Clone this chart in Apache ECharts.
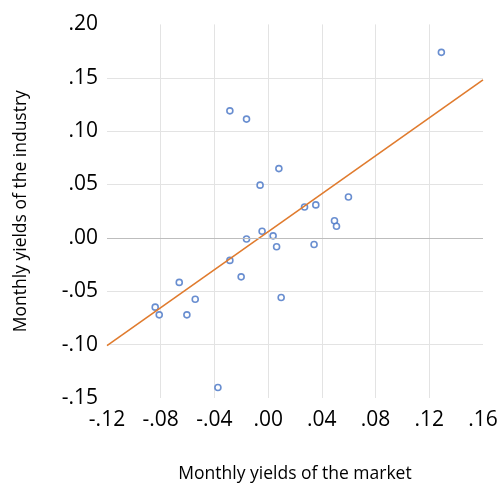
<!DOCTYPE html>
<html>
<head>
<meta charset="utf-8">
<script src="https://cdn.jsdelivr.net/npm/echarts@6/dist/echarts.min.js"></script>
<style>
html,body{margin:0;padding:0;background:#fff;}
#chart{width:501px;height:488px;}
</style>
</head>
<body>
<div id="chart"></div>
<script>
// Market monthly yields (x) and industry monthly yields (y)
const marketYields = [0.129, -0.0285, -0.0161, 0.0080, -0.0060, 0.0598, 0.0271, 0.0355, 0.0494, 0.0509,
  -0.0045, 0.0037, -0.0161, 0.0063, 0.0342, -0.0285, -0.0201, -0.0662, -0.0543, -0.0841,
  -0.0811, -0.0605, -0.0374, 0.0097];
const industryYields = [0.1738, 0.119, 0.1113, 0.0649, 0.0494, 0.0383, 0.0290, 0.0309, 0.0160, 0.0109,
  0.0062, 0.0019, -0.001, -0.0083, -0.0062, -0.0211, -0.0365, -0.0417, -0.0575, -0.0649,
  -0.0721, -0.0721, -0.1401, -0.0559];
// Trend line end points
const trendX = [-0.12, 0.16];
const trendY = [-0.101, 0.148];
// Axis settings
const xMin = -0.12, xMax = 0.16, xStep = 0.04;
const yMin = -0.15, yMax = 0.20, yStep = 0.05;
const xTitle = 'Monthly yields of the market';
const yTitle = 'Monthly yields of the industry';

function fmt(v){
  if (Math.abs(v) < 1e-9) return '.00';
  const s = Math.abs(v).toFixed(2).replace(/^0/, '');
  return (v < 0 ? '-' : '') + s;
}

const points = marketYields.map((x, i) => [x, industryYields[i]]);
const trend = trendX.map((x, i) => [x, trendY[i]]);

const chart = echarts.init(document.getElementById('chart'), null, {renderer: 'canvas'});
const font = "'Open Sans', sans-serif";
chart.setOption({
  animation: false,
  backgroundColor: '#ffffff',
  grid: {left: 107, right: 18, top: 24.4, bottom: 86.3},
  xAxis: {
    type: 'value', min: xMin, max: xMax, interval: xStep,
    name: xTitle, nameLocation: 'middle', nameGap: 67,
    nameTextStyle: {fontFamily: font, fontSize: 17.5, color: '#000'},
    axisLine: {show: false}, axisTick: {show: false},
    axisLabel: {formatter: fmt, fontFamily: font, fontSize: 21, color: '#000', margin: 12},
    splitLine: {show: true, showMinLine: false, showMaxLine: false, lineStyle: {color: '#E3E3E3', width: 1}}
  },
  yAxis: {
    type: 'value', min: yMin, max: yMax, interval: yStep,
    name: yTitle, nameLocation: 'middle', nameGap: 77,
    nameTextStyle: {fontFamily: font, fontSize: 17.5, color: '#000'},
    axisLine: {show: false}, axisTick: {show: false},
    axisLabel: {formatter: fmt, fontFamily: font, fontSize: 21, color: '#000', margin: 9},
    splitLine: {show: true, showMinLine: false, showMaxLine: false, lineStyle: {color: '#E3E3E3', width: 1}}
  },
  series: [
    {
      type: 'scatter', data: points, symbol: 'circle', symbolSize: 6,
      itemStyle: {color: '#ffffff', borderColor: '#4472C4', borderWidth: 1.6},
      z: 3,
      markLine: {
        silent: true, symbol: 'none', label: {show: false},
        lineStyle: {color: '#BDBDBD', width: 1, type: 'solid'},
        data: [{yAxis: 0}]
      }
    },
    {
      type: 'line', data: trend, symbol: 'none', z: 4,
      lineStyle: {color: '#E07B2E', width: 1.6}
    }
  ]
});
</script>
</body>
</html>
